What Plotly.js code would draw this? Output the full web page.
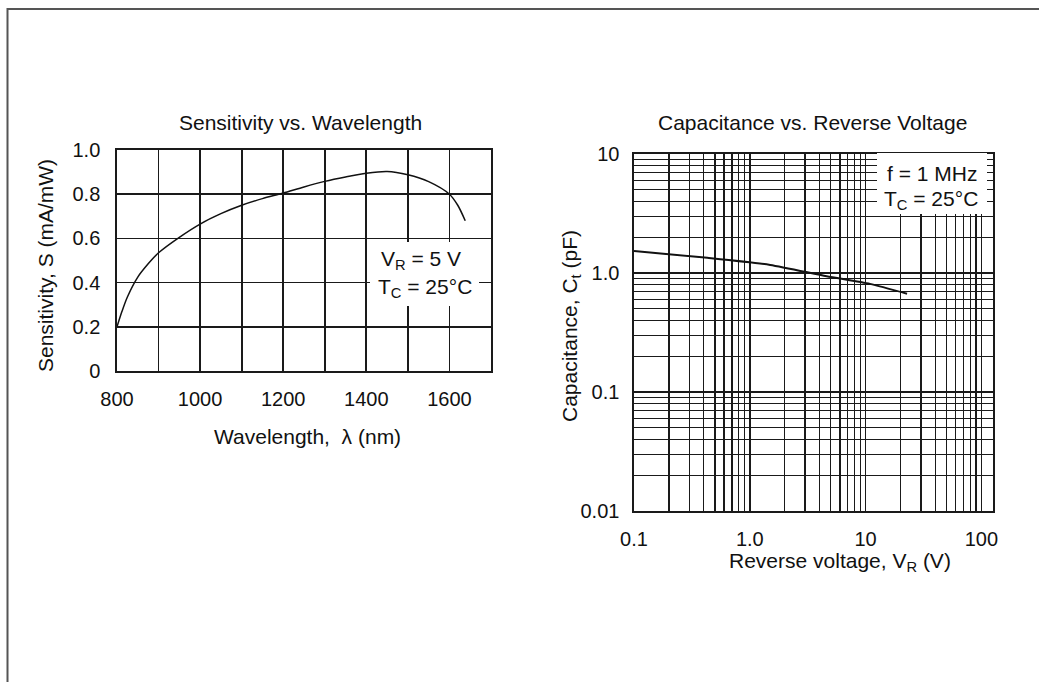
<!DOCTYPE html>
<html>
<head>
<meta charset="utf-8">
<script src="https://cdn.plot.ly/plotly-3.0.1.min.js"></script>
<style>html,body{margin:0;padding:0;background:#fff;}#chart{width:1039px;height:682px;}</style>
</head>
<body>
<div id="chart"></div>
<script>
// Left chart: Sensitivity vs. Wavelength
const wavelength = [800, 812, 825, 850, 875, 900, 950, 1000, 1050, 1100, 1150, 1200, 1250, 1300, 1350, 1400, 1450, 1500, 1550, 1600, 1620, 1638];
const sensitivity = [0.2, 0.27, 0.335, 0.425, 0.485, 0.535, 0.605, 0.665, 0.712, 0.75, 0.78, 0.805, 0.833, 0.858, 0.878, 0.895, 0.903, 0.888, 0.857, 0.8, 0.75, 0.68];
const wlTickVals = [800, 1000, 1200, 1400, 1600];
const wlTickText = ["800", "1000", "1200", "1400", "1600"];
const sTickVals = [0, 0.2, 0.4, 0.6, 0.8, 1.0];
const sTickText = ["0", "0.2", "0.4", "0.6", "0.8", "1.0"];

// Right chart: Capacitance vs. Reverse Voltage
const reverseVoltage = [0.1, 0.43, 1.5, 4.6, 10.9, 22.8];
const capacitance = [1.53, 1.34, 1.17, 0.94, 0.81, 0.67];
const vrTickVals = [0.1, 1, 10, 100];
const vrTickText = ["0.1", "1.0", "10", "100"];
const cTickVals = [0.01, 0.1, 1, 10];
const cTickText = ["0.01", "0.1", "1.0", "10"];

const W = 1039, H = 682;
const px = x => x / W;
const py = y => 1 - y / H;
const FONT = "Liberation Sans, Arial, Helvetica, sans-serif";

const traces = [
  {x: wavelength, y: sensitivity, xaxis: 'x', yaxis: 'y', type: 'scatter', mode: 'lines',
   line: {color: '#111', width: 1.5, shape: 'spline', smoothing: 0.8}, hoverinfo: 'skip'},
  {x: reverseVoltage, y: capacitance, xaxis: 'x2', yaxis: 'y2', type: 'scatter', mode: 'lines',
   line: {color: '#111', width: 2, shape: 'spline', smoothing: 0.6}, hoverinfo: 'skip'}
];

const gridBlack = '#1a1a1a';
const TICKF = {family: FONT, size: 20, color: '#111'};
const layout = {
  width: W, height: H,
  margin: {l: 0, r: 0, t: 0, b: 0},
  paper_bgcolor: '#fff', plot_bgcolor: '#fff',
  showlegend: false,
  font: {family: FONT, color: '#111', size: 20},
  xaxis: {
    domain: [px(117), px(491)], range: [800, 1700], anchor: 'y',
    tickmode: 'array', tickvals: wlTickVals, ticktext: wlTickText,
    showgrid: true, gridcolor: gridBlack, gridwidth: 1.7,
    minor: {tickmode: 'linear', tick0: 800, dtick: 100, showgrid: true, gridcolor: gridBlack, gridwidth: 1.7},
    showline: true, linecolor: gridBlack, linewidth: 1.7, mirror: true,
    zeroline: false, ticks: '', ticklabelstandoff: 9,
    tickfont: TICKF
  },
  yaxis: {
    domain: [py(371), py(150)], range: [0, 1.0], anchor: 'x',
    tickmode: 'array', tickvals: sTickVals, ticktext: sTickText,
    showgrid: true, gridcolor: gridBlack, gridwidth: 1.7,
    showline: true, linecolor: gridBlack, linewidth: 1.7, mirror: true,
    zeroline: false, ticks: '', ticklabelstandoff: 11,
    tickfont: TICKF
  },
  xaxis2: {
    domain: [px(634), px(993)], type: 'log', range: [-1, 2.1], anchor: 'y2',
    tickmode: 'array', tickvals: vrTickVals, ticktext: vrTickText,
    showgrid: true, gridcolor: gridBlack, gridwidth: 1.4,
    minor: {dtick: 'D1', showgrid: true, gridcolor: gridBlack, gridwidth: 1.3},
    showline: true, linecolor: gridBlack, linewidth: 1.6, mirror: true,
    zeroline: false, ticks: '', ticklabelstandoff: 9,
    tickfont: TICKF
  },
  yaxis2: {
    domain: [py(511), py(154)], type: 'log', range: [-2, 1], anchor: 'x2',
    tickmode: 'array', tickvals: cTickVals, ticktext: cTickText,
    showgrid: true, gridcolor: gridBlack, gridwidth: 1.4,
    minor: {dtick: 'D1', showgrid: true, gridcolor: gridBlack, gridwidth: 1.3},
    showline: true, linecolor: gridBlack, linewidth: 1.6, mirror: true,
    zeroline: false, ticks: '', ticklabelstandoff: 9,
    tickfont: TICKF
  },
  shapes: [
    {type: 'path', xref: 'paper', yref: 'paper', path: `M ${px(7.5)} 0 L ${px(7.5)} ${py(9)} L 1 ${py(9)}`,
     line: {color: '#555', width: 2}},
    {type: 'rect', xref: 'paper', yref: 'paper', layer: 'above',
     x0: px(370), x1: px(479), y0: py(306), y1: py(242), fillcolor: '#fff', line: {width: 0}},
    {type: 'rect', xref: 'paper', yref: 'paper', layer: 'above',
     x0: px(877), x1: px(987), y0: py(214), y1: py(153), fillcolor: '#fff', line: {width: 0}}
  ],
  annotations: [
    {text: 'Sensitivity vs. Wavelength', xref: 'paper', yref: 'paper', x: px(300), y: py(122),
     xanchor: 'center', yanchor: 'middle', showarrow: false, font: {size: 21}},
    {text: 'Capacitance vs. Reverse Voltage', xref: 'paper', yref: 'paper', x: px(812), y: py(122),
     xanchor: 'center', yanchor: 'middle', showarrow: false, font: {size: 21}},
    {text: 'Sensitivity, S (mA/mW)', xref: 'paper', yref: 'paper', x: px(45), y: py(266),
     xanchor: 'center', yanchor: 'middle', textangle: -90, showarrow: false, font: {size: 21}},
    {text: 'Wavelength,  λ (nm)', xref: 'paper', yref: 'paper', x: px(307), y: py(436),
     xanchor: 'center', yanchor: 'middle', showarrow: false, font: {size: 21}},
    {text: 'Capacitance, C<sub>t</sub> (pF)', xref: 'paper', yref: 'paper', x: px(571), y: py(326),
     xanchor: 'center', yanchor: 'middle', textangle: -90, showarrow: false, font: {size: 21}},
    {text: 'Reverse voltage, V<sub>R</sub> (V)', xref: 'paper', yref: 'paper', x: px(840), y: py(562),
     xanchor: 'center', yanchor: 'middle', showarrow: false, font: {size: 21}},
    {text: 'V<sub>R</sub> = 5 V', xref: 'paper', yref: 'paper', x: px(379), y: py(260),
     xanchor: 'left', yanchor: 'middle', showarrow: false, font: {size: 21}},
    {text: 'T<sub>C</sub> = 25°C', xref: 'paper', yref: 'paper', x: px(376), y: py(288),
     xanchor: 'left', yanchor: 'middle', showarrow: false, font: {size: 21}},
    {text: 'f = 1 MHz', xref: 'paper', yref: 'paper', x: px(885), y: py(173),
     xanchor: 'left', yanchor: 'middle', showarrow: false, font: {size: 21}},
    {text: 'T<sub>C</sub> = 25°C', xref: 'paper', yref: 'paper', x: px(882), y: py(200),
     xanchor: 'left', yanchor: 'middle', showarrow: false, font: {size: 21}}
  ]
};

Plotly.newPlot('chart', traces, layout, {staticPlot: true, displayModeBar: false});
</script>
</body>
</html>
